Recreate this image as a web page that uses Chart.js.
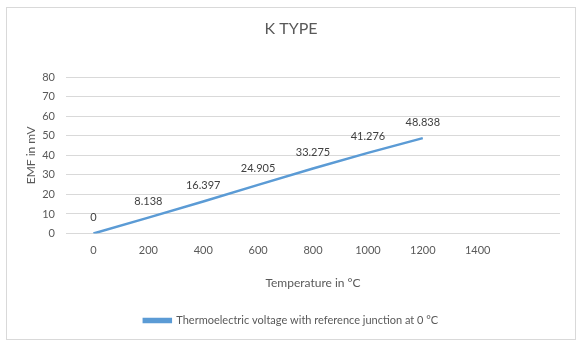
<!DOCTYPE html>
<html>
<head>
<meta charset="utf-8">
<script src="https://cdn.jsdelivr.net/npm/chart.js@4/dist/chart.umd.min.js"></script>
<style>
  html, body { margin: 0; padding: 0; background: #fff; }
  #wrap { position: relative; width: 582px; height: 345px; }
  #frame { position: absolute; left: 6px; top: 7px; width: 568px; height: 331px; border: 1px solid #d9d9d9; pointer-events: none; }
  canvas { position: absolute; left: 0; top: 0; }
</style>
</head>
<body>
<div id="wrap">
  <canvas id="c" width="582" height="345"></canvas>
  <div id="frame"></div>
</div>
<script>
const chartTitle = 'K TYPE';
const xTitle = 'Temperature in °C';
const yTitle = 'EMF in mV';
const seriesName = 'Thermoelectric voltage with reference junction at 0 °C';
const categories = ['0', '200', '400', '600', '800', '1000', '1200', '1400', ''];
const emfValues = [0, 8.138, 16.397, 24.905, 33.275, 41.276, 48.838, null, null];
const emfLabels = ['0', '8.138', '16.397', '24.905', '33.275', '41.276', '48.838'];
const yMin = 0, yMax = 80, yStep = 10;

const textColor = '#595959';
const gridColor = '#d9d9d9';
const lineColor = '#5b9bd5';
const FONT = 'Lato, "Open Sans", sans-serif';

const dataLabelPlugin = {
  id: 'dataLabels',
  afterDatasetsDraw(chart) {
    const ctx = chart.ctx;
    const meta = chart.getDatasetMeta(0);
    ctx.save();
    ctx.font = '11px ' + FONT;
    ctx.fillStyle = '#404040';
    ctx.textAlign = 'center';
    ctx.textBaseline = 'middle';
    meta.data.forEach((pt, i) => {
      if (emfValues[i] === null || emfValues[i] === undefined) return;
      ctx.fillText(emfLabels[i], pt.x, pt.y - 16);
    });
    ctx.restore();
  }
};

new Chart(document.getElementById('c'), {
  type: 'line',
  data: {
    labels: categories,
    datasets: [{
      label: seriesName,
      data: emfValues,
      borderColor: lineColor,
      backgroundColor: lineColor,
      borderWidth: 2.5,
      pointRadius: 0,
      pointHoverRadius: 0,
      tension: 0,
      spanGaps: false
    }]
  },
  options: {
    responsive: false,
    animation: false,
    layout: { padding: { left: 22, right: 22, top: 10, bottom: 9 } },
    plugins: {
      title: {
        display: true,
        text: chartTitle,
        color: textColor,
        font: { family: FONT, size: 16, weight: 'normal' },
        padding: { top: 9, bottom: 39 }
      },
      legend: {
        display: true,
        position: 'bottom',
        labels: {
          color: textColor,
          font: { family: FONT, size: 11 },
          boxWidth: 27,
          boxHeight: 3,
          padding: 10
        }
      },
      tooltip: { enabled: false }
    },
    scales: {
      x: {
        type: 'category',
        offset: true,
        grid: { display: false, drawTicks: false },
        border: { display: false },
        ticks: { color: textColor, font: { family: FONT, size: 11 }, padding: 10, maxRotation: 0, autoSkip: false },
        title: { display: true, text: xTitle, color: textColor, font: { family: FONT, size: 12 }, padding: { top: 4, bottom: 15 } },
        afterFit(s) { s.height = 71.5; }
      },
      y: {
        min: yMin, max: yMax,
        grid: { color: gridColor, drawTicks: false, lineWidth: 1 },
        border: { display: false },
        ticks: { stepSize: yStep, color: textColor, font: { family: FONT, size: 11 }, padding: 11 },
        title: { display: true, text: yTitle, color: textColor, font: { family: FONT, size: 12 }, padding: { top: 2, bottom: 0 } },
        afterFit(s) { s.width = 44; }
      }
    }
  },
  plugins: [dataLabelPlugin]
});
</script>
</body>
</html>
